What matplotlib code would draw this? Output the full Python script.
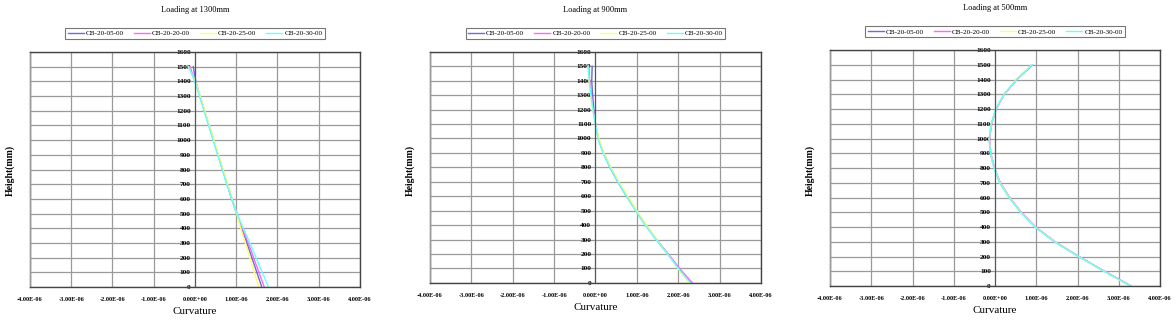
import matplotlib
matplotlib.use("Agg")
import matplotlib.pyplot as plt
from matplotlib.ticker import FixedLocator, FuncFormatter

plt.rcParams['font.family'] = ['Liberation Serif', 'DejaVu Serif']

heights = [0, 100, 200, 300, 400, 500, 600, 700, 800, 900, 1000, 1100, 1200, 1300, 1400, 1500]
series_names = ["CB-20-05-00", "CB-20-20-00", "CB-20-25-00", "CB-20-30-00"]
titles = ["Loading at 1300mm", "Loading at 900mm", "Loading at 500mm"]

# curvature values (x 1e-6)
p1_05 = [1.62, 1.50, 1.38, 1.26, 1.13, 1.01, 0.89, 0.78, 0.67, 0.56, 0.45, 0.34, 0.23, 0.12, 0.02, -0.04]
p1_20 = [1.68, 1.55, 1.42, 1.29, 1.15, 1.02, 0.90, 0.78, 0.67, 0.56, 0.45, 0.34, 0.23, 0.12, 0.00, -0.12]
p1_25 = [1.55, 1.44, 1.33, 1.22, 1.11, 1.01, 0.90, 0.79, 0.68, 0.57, 0.46, 0.35, 0.24, 0.13, 0.01, -0.17]
p1_30 = [1.78, 1.63, 1.48, 1.33, 1.17, 1.02, 0.89, 0.77, 0.66, 0.55, 0.44, 0.33, 0.22, 0.11, -0.01, -0.15]

p2_05 = [2.32, 2.02, 1.75, 1.47, 1.21, 0.98, 0.75, 0.54, 0.35, 0.19, 0.07, 0.00, -0.04, -0.07, -0.09, -0.08]
p2_20 = [2.34, 2.03, 1.76, 1.48, 1.22, 0.99, 0.76, 0.55, 0.36, 0.19, 0.07, 0.00, -0.06, -0.10, -0.14, -0.16]
p2_25 = [2.26, 1.99, 1.74, 1.48, 1.23, 1.00, 0.78, 0.56, 0.37, 0.20, 0.08, 0.00, -0.07, -0.12, -0.16, -0.19]
p2_30 = [2.30, 2.00, 1.74, 1.46, 1.20, 0.97, 0.75, 0.54, 0.35, 0.18, 0.06, 0.00, -0.06, -0.11, -0.15, -0.18]

p3_05 = [3.29, 2.65, 2.03, 1.45, 0.98, 0.63, 0.35, 0.12, -0.02, -0.11, -0.14, -0.09, 0.02, 0.22, 0.52, 0.90]
p3_20 = [3.30, 2.66, 2.04, 1.46, 0.99, 0.64, 0.36, 0.13, -0.01, -0.10, -0.13, -0.08, 0.03, 0.23, 0.53, 0.91]
p3_25 = [3.27, 2.64, 2.02, 1.45, 0.98, 0.63, 0.35, 0.12, -0.02, -0.11, -0.14, -0.09, 0.02, 0.22, 0.51, 0.89]
p3_30 = [3.29, 2.65, 2.03, 1.44, 0.97, 0.62, 0.34, 0.11, -0.02, -0.11, -0.14, -0.09, 0.02, 0.22, 0.52, 0.90]

panels = [[p1_05, p1_20, p1_25, p1_30],
          [p2_05, p2_20, p2_25, p2_30],
          [p3_05, p3_20, p3_25, p3_30]]

colors = ["#6a6ad8", "#ff66ff", "#ffff66", "#66ffff"]
x_ticks = [-4e-6, -3e-6, -2e-6, -1e-6, 0, 1e-6, 2e-6, 3e-6, 4e-6]
y_ticks = list(range(0, 1700, 100))

fig = plt.figure(figsize=(11.76, 3.2), dpi=100)
positions = [[0.0255, 0.103, 0.2806, 0.7344],
             [0.3656, 0.116, 0.2815, 0.722],
             [0.7058, 0.106, 0.2806, 0.7375]]
ylabel_x = [5, 405, 805]

for i, (pos, data) in enumerate(zip(positions, panels)):
    ax = fig.add_axes(pos)
    lines = []
    for name, vals, c in zip(series_names, data, colors):
        ln, = ax.plot([v * 1e-6 for v in vals], heights, color=c, lw=1.0, label=name)
        lines.append(ln)
    ax.set_xlim(-4e-6, 4e-6)
    ax.set_ylim(0, 1600)
    ax.xaxis.set_major_locator(FixedLocator(x_ticks))
    ax.yaxis.set_major_locator(FixedLocator(y_ticks))
    ax.xaxis.set_major_formatter(FuncFormatter(lambda v, p: "%.2E" % v))
    ax.grid(True, color="#9a9a9a", lw=0.9)
    ax.set_axisbelow(True)
    ax.spines['left'].set_position(('data', 0))
    ax.spines['left'].set_color('#555555')
    for s in ['right', 'top', 'bottom']:
        ax.spines[s].set_color('#444444')
        ax.spines[s].set_linewidth(1.0)
    ax.axvline(-4e-6, color='#444444', lw=1.0, clip_on=False, zorder=0.5)
    ax.tick_params(axis='both', length=0, pad=3)
    ax.tick_params(axis='x', pad=7)
    for lab in ax.get_xticklabels():
        lab.set_fontsize(4.5)
        lab.set_fontweight('bold')
    for lab in ax.get_yticklabels():
        lab.set_fontsize(5.3)
        lab.set_fontweight('bold')
    ax.set_xlabel("Curvature", fontsize=8, labelpad=4)
    fig.text(ylabel_x[i] / 1176, (320 - 170) / 320, "Height(mm)", rotation=90,
             fontsize=7, fontweight='bold', ha='left', va='center')
    ax.set_title(titles[i], fontsize=6, y=1.0, pad=29)
    leg = ax.legend(handles=lines, ncol=4, loc='lower center', bbox_to_anchor=(0.5, 1.04),
                    fontsize=5.2, frameon=True, fancybox=False, borderpad=0.35,
                    handlelength=2.2, columnspacing=1.4, handletextpad=0.3)
    leg.get_frame().set_edgecolor('#555555')
    leg.get_frame().set_linewidth(0.8)

fig.savefig("out.png", dpi=100)
